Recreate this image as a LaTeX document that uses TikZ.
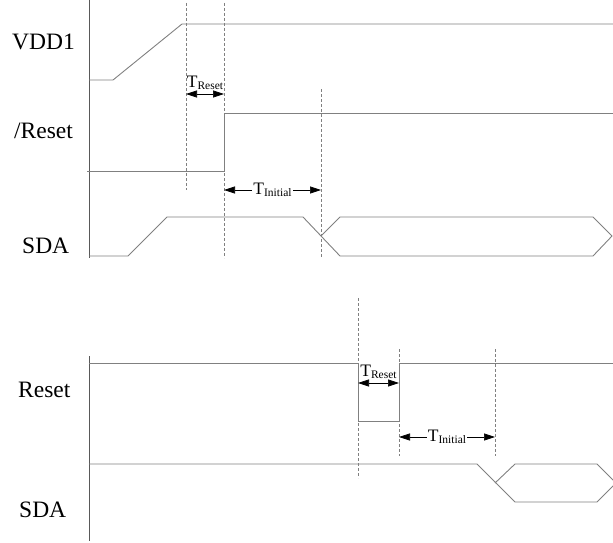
\documentclass[tikz,border=0pt]{standalone}
\usepackage{fontspec}
\setmainfont{Liberation Serif}
\usetikzlibrary{arrows.meta}

\newcommand{\sigfont}{\fontsize{23.5}{28}\selectfont}
\newcommand{\tlabel}[1]{\fontsize{17.5}{18}\selectfont T\raisebox{-2.5pt}{\fontsize{11.5}{12}\selectfont #1}}

\begin{document}
\begin{tikzpicture}[
        x=1pt, y=-1pt,
        sig/.style={draw=black!50, line width=0.9pt, line join=miter},
        axis/.style={draw=black!65, line width=0.9pt},
        guide/.style={draw=black!50, line width=0.6pt, dash pattern=on 3pt off 2pt},
        dim/.style={{Triangle[length=11pt,width=7pt]}-{Triangle[length=11pt,width=7pt]}, line width=0.7pt, black},
        siglabel/.style={anchor=base west, inner sep=0pt, font=\sigfont},
        tag/.style={inner sep=1pt, fill=white}
    ]
    \useasboundingbox (0,0) rectangle (613,543);

    % Power-on sequence
    \draw[axis] (89,0) -- (89,258);
    \node[siglabel] (vdd) at (12,49) {VDD1};
    \node[siglabel] (nrst) at (14,138) {/Reset};
    \node[siglabel] (sda1) at (22,253) {SDA};

    \draw[sig] (89,80) -- (113,80) -- (182,24) -- (613,24);
    \draw[sig] (87,171) -- (224,171) -- (224,113) -- (613,113);
    \draw[sig] (89,256) -- (128,256) -- (167,217) -- (303,217) -- (340,256) -- (593,256)
        -- (612,236) -- (593,217) -- (340,217) -- (321,236);

    \draw[guide] (186,3) -- (186,190);
    \draw[guide] (224,3) -- (224,258);
    \draw[guide] (321,89) -- (321,258);

    \coordinate (ra1) at (186,94);
    \coordinate (rb1) at (224,94);
    \coordinate (ia1) at (224,190);
    \coordinate (ib1) at (321,190);
    \draw[dim] (ra1) -- (rb1);
    \node[inner sep=0pt, anchor=base] (treset1) at (205,87) {\tlabel{Reset}};
    \draw[dim] (ia1) -- (ib1);
    \node[tag] (tinit1) at (272.5,190) {\tlabel{Initial}};

    % Hardware reset
    \draw[axis] (89,356) -- (89,541);
    \node[siglabel] (rst) at (18,397) {Reset};
    \node[siglabel] (sda2) at (19,517) {SDA};

    \draw[sig] (89,363) -- (358,363) -- (358,421) -- (399,421) -- (399,363) -- (613,363);
    \draw[sig] (89,464) -- (477,464) -- (515,502) -- (597,502) -- (616,483)
        -- (597,464) -- (515,464) -- (495,483);

    \draw[guide] (358,298) -- (358,478);
    \draw[guide] (399,349) -- (399,456);
    \draw[guide] (495,349) -- (495,456);

    \coordinate (ra2) at (358,383);
    \coordinate (rb2) at (399,383);
    \coordinate (ia2) at (399,437);
    \coordinate (ib2) at (495,437);
    \draw[dim] (ra2) -- (rb2);
    \node[inner sep=0pt, anchor=base] (treset2) at (378.5,376) {\tlabel{Reset}};
    \draw[dim] (ia2) -- (ib2);
    \node[tag] (tinit2) at (447,437) {\tlabel{Initial}};
\end{tikzpicture}
\end{document}
